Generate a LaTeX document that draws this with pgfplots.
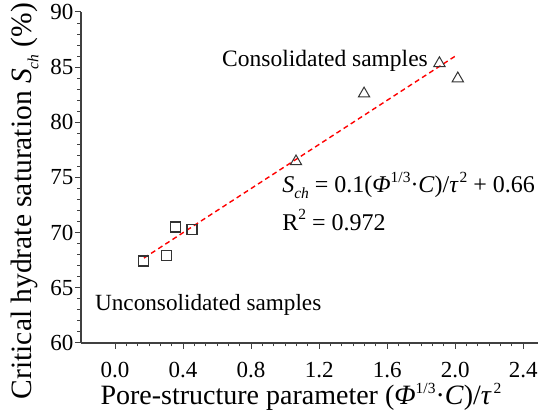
\documentclass[border=0pt]{standalone}
\usepackage{fontspec}
\setmainfont{Liberation Serif}
\usepackage{pgfplots}
\pgfplotsset{compat=1.18}
\newcommand\sups[1]{\raisebox{0.42em}{\fontsize{15.5}{15.5}\selectfont #1}}
\newcommand\subs[1]{\raisebox{-0.22em}{\fontsize{15.5}{15.5}\selectfont #1}}
\begin{document}
\begin{tikzpicture}
\begin{axis}[
  at={(0pt,0pt)}, anchor=south west,
  scale only axis,
  width=459.3pt, height=331pt,
  xmin=-0.2, xmax=2.5, ymin=60, ymax=90,
  axis lines*=left,
  axis line style={line width=1.2pt, color=black!75},
  xtick={0,0.4,0.8,1.2,1.6,2.0,2.4},
  xticklabels={0.0,0.4,0.8,1.2,1.6,2.0,2.4},
  ytick={60,65,70,75,80,85,90},
  yticklabels={60,65,70,75,80,85,90},
  minor x tick num=5,
  minor y tick num=4,
  tick align=outside,
  major tick length=6pt, minor tick length=3.5pt,
  every tick/.style={line width=1pt, black!75},
  ticklabel style={font=\rmfamily\fontsize{23}{25}\selectfont},
  xticklabel style={inner sep=0pt, anchor=north, yshift=-13pt},
  yticklabel style={inner sep=0pt, anchor=east, xshift=-1.5pt},
  xlabel={Pore-structure parameter (\textit{Φ}\sups{1/3}·\textit{C})/\textit{τ}\kern2pt\sups{2}},
  ylabel={Critical hydrate saturation \textit{S}\subs{\textit{ch}} (\%)},
  xlabel style={font=\rmfamily\fontsize{28}{30}\selectfont, at={(axis description cs:0.479,-0.187)}, anchor=base, inner sep=0pt},
  ylabel style={font=\rmfamily\fontsize{29.5}{31}\selectfont, at={(axis description cs:-0.1067,0.429)}, anchor=base, inner sep=0pt},
  clip=false,
]
\addplot[only marks, mark=square, mark size=5pt, mark options={line width=1.2pt, draw=black!80}]
  coordinates {(0.166,67.43) (0.304,67.95) (0.357,70.51) (0.453,70.30)};
\addplot[only marks, mark=triangle, mark size=6.5pt, mark options={line width=1pt, draw=black!80}]
  coordinates {(1.064,76.45) (1.464,82.6) (1.907,85.35) (2.015,83.97)};
\addplot[red, dashed, line width=1.4pt, dash pattern=on 5pt off 3.5pt]
  coordinates {(0.17,67.7) (2.0,86.0)};
\node[anchor=east, font=\fontsize{23.5}{26}\selectfont, inner sep=0pt] at (axis cs:1.84,85.56) {Consolidated samples};
\node[anchor=west, font=\fontsize{23.2}{26}\selectfont, inner sep=0pt] at (axis cs:-0.118,63.44) {Unconsolidated samples};
\node[anchor=base west, font=\fontsize{24}{26}\selectfont, inner sep=0pt] at (axis cs:0.982,73.6) {\textit{S}\subs{\textit{ch}} = 0.1(\textit{Φ}\sups{1/3}·\textit{C})/\textit{τ}\kern1pt\sups{2} + 0.66};
\node[anchor=base west, font=\fontsize{24}{26}\selectfont, inner sep=0pt] at (axis cs:0.982,70.24) {R\sups{2} = 0.972};
\end{axis}
\pgfresetboundingbox
\path (-81pt,-71pt) rectangle (457pt,343pt);
\end{tikzpicture}
\end{document}
